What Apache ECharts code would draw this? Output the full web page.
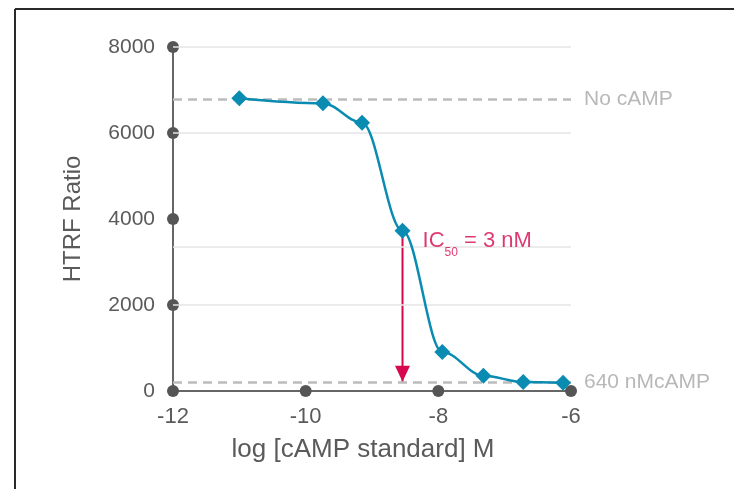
<!DOCTYPE html>
<html>
<head>
<meta charset="utf-8">
<script src="https://cdn.jsdelivr.net/npm/echarts@6/dist/echarts.min.js"></script>
<style>
  html, body { margin: 0; padding: 0; background: #fff; }
  #chart { width: 734px; height: 489px; }
</style>
</head>
<body>
<div id="chart"></div>
<script>
// axis ticks
const xTicks = [-12, -10, -8, -6]
const yTicks = [0, 2000, 4000, 6000, 8000]

// standard curve (log M vs HTRF ratio)
const logConc = [-11.0, -9.74, -9.15, -8.54, -7.94, -7.32, -6.72, -6.12]
const htrf = [6810, 6690, 6240, 3728, 907, 356, 209, 193]

// light horizontal guide lines
const gridValues = [2000, 3350, 6000, 8000]

// reference levels
const noCampLevel = 6780
const maxCampLevel = 215
const refLabels = ['No cAMP', '640 nMcAMP']

// IC50 point
const ic50Point = [-8.54, 3728]
const ic50Text = ['IC', '50', ' = 3 nM']

const TEAL = '#0a8bb2'
const RED = '#d6084f'
const AXIS = '#5a5a5a'
const FONT = '"Liberation Sans", Arial, sans-serif'

const chart = echarts.init(document.getElementById('chart'))

const arrowEnd = [ic50Point[0], maxCampLevel]

const option = {
    backgroundColor: '#fff',
    animation: false,
    textStyle: {fontFamily: FONT},
    grid: {left: 173, right: 163, top: 47, bottom: 98},
    xAxis: {
        type: 'value',
        min: xTicks[0],
        max: xTicks[xTicks.length - 1],
        interval: 2,
        name: 'log [cAMP standard] M',
        nameLocation: 'middle',
        nameGap: 46,
        nameTextStyle: {color: AXIS, fontSize: 26, fontFamily: FONT, padding: [0, 18, 0, 0]},
        axisLine: {lineStyle: {color: '#666', width: 2}},
        axisTick: {show: false},
        splitLine: {show: false},
        axisLabel: {color: AXIS, fontSize: 22, fontFamily: FONT, margin: 15}
    },
    yAxis: {
        type: 'value',
        min: yTicks[0],
        max: yTicks[yTicks.length - 1],
        interval: 2000,
        name: 'HTRF Ratio',
        nameLocation: 'middle',
        nameGap: 88,
        nameTextStyle: {color: AXIS, fontSize: 24, fontFamily: FONT},
        axisLine: {show: true, lineStyle: {color: '#666', width: 2}},
        axisTick: {show: false},
        splitLine: {show: false},
        axisLabel: {
            color: AXIS, fontSize: 21, fontFamily: FONT, margin: 18,
            formatter: v => String(v)
        }
    },
    graphic: [
        {type: 'line', shape: {x1: 15, y1: 9, x2: 734, y2: 9}, style: {stroke: '#2a2a2a', lineWidth: 2}},
        {type: 'line', shape: {x1: 15, y1: 9, x2: 15, y2: 489}, style: {stroke: '#2a2a2a', lineWidth: 2}}
    ],
    series: [
        {
            // guide lines + dashed reference levels
            type: 'line',
            data: [],
            silent: true,
            z: 1,
            markLine: {
                silent: true,
                symbol: 'none',
                animation: false,
                data: gridValues.map(v => ({
                    yAxis: v,
                    lineStyle: {color: '#e4e4e4', width: 1.5, type: 'solid'},
                    label: {show: false}
                })).concat([noCampLevel, maxCampLevel].map((v, i) => ({
                    yAxis: v,
                    lineStyle: {color: '#bcbcbc', width: 2.5, type: [9, 6]},
                    label: {
                        show: true, position: 'end', distance: 13,
                        formatter: refLabels[i],
                        color: '#b8b8b8', fontSize: 21, fontFamily: FONT
                    }
                })))
            }
        },
        {
            // dots on the axes at the ticks
            type: 'scatter',
            clip: false,
            silent: true,
            z: 3,
            symbol: 'circle',
            symbolSize: 12,
            itemStyle: {color: '#555', opacity: 1},
            data: xTicks.map(v => [v, yTicks[0]]).concat(yTicks.slice(1).map(v => [xTicks[0], v]))
        },
        {
            // IC50 arrow shaft
            type: 'line',
            z: 4,
            silent: true,
            showSymbol: false,
            lineStyle: {color: RED, width: 2},
            data: [ic50Point, arrowEnd]
        },
        {
            // IC50 arrow head, tip on the 640 nM level
            type: 'scatter',
            z: 4,
            silent: true,
            symbol: 'triangle',
            symbolSize: [15, 16],
            symbolRotate: 180,
            symbolOffset: [0, -8],
            itemStyle: {color: RED, opacity: 1},
            data: [arrowEnd]
        },
        {
            name: 'HTRF',
            type: 'line',
            z: 5,
            smooth: 0.35,
            smoothMonotone: 'x',
            symbol: 'diamond',
            symbolSize: [16, 16],
            lineStyle: {color: TEAL, width: 2.5},
            itemStyle: {color: TEAL},
            data: logConc.map((x, i) => [x, htrf[i]])
        },
        {
            // IC50 label
            type: 'scatter',
            z: 6,
            silent: true,
            symbolSize: 0,
            data: [ic50Point],
            label: {
                show: true,
                position: 'right',
                distance: 0,
                offset: [20, 10],
                formatter: '{a|' + ic50Text[0] + '}{b|' + ic50Text[1] + '}{a|' + ic50Text[2] + '}',
                rich: {
                    a: {color: RED, fontSize: 22, fontFamily: FONT, lineHeight: 36},
                    b: {color: RED, fontSize: 12, fontFamily: FONT, lineHeight: 8, verticalAlign: 'bottom'}
                }
            }
        }
    ]
}

chart.setOption(option)
</script>
</body>
</html>
